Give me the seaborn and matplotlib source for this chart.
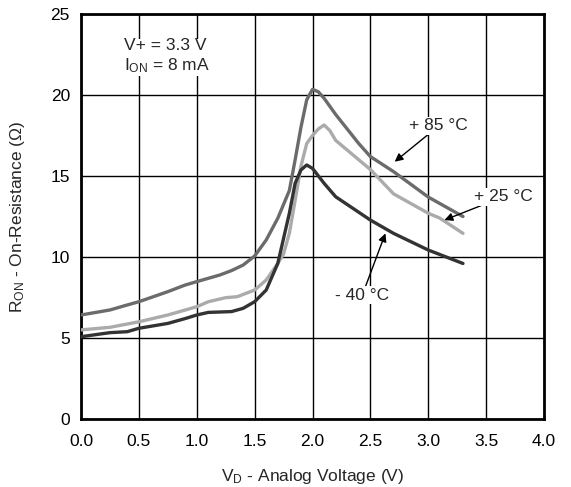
import matplotlib
matplotlib.use("Agg")
import matplotlib.pyplot as plt
import seaborn as sns
import pandas as pd

# ---- data ----
v_85 = [0.0, 0.25, 0.4, 0.5, 0.75, 0.9, 1.0, 1.2, 1.3, 1.4, 1.5, 1.6, 1.7, 1.8, 1.85, 1.9, 1.95, 2.0, 2.05, 2.1, 2.2, 2.4, 2.5, 2.7, 3.0, 3.3]
r_85 = [6.42, 6.73, 7.04, 7.24, 7.86, 8.27, 8.48, 8.89, 9.16, 9.5, 10.06, 11.05, 12.39, 14.1, 16.0, 18.0, 19.7, 20.35, 20.2, 19.8, 18.8, 17.0, 16.2, 15.27, 13.7, 12.5]

v_25 = [0.0, 0.25, 0.5, 0.75, 1.0, 1.1, 1.25, 1.35, 1.5, 1.6, 1.7, 1.75, 1.8, 1.85, 1.9, 1.95, 2.0, 2.05, 2.1, 2.15, 2.2, 2.5, 2.7, 3.0, 3.1, 3.3]
r_25 = [5.5, 5.66, 6.0, 6.42, 6.93, 7.24, 7.49, 7.55, 7.96, 8.58, 9.6, 10.2, 11.46, 13.5, 15.6, 17.0, 17.5, 17.9, 18.15, 17.8, 17.2, 15.4, 13.9, 12.7, 12.4, 11.46]

v_m40 = [0.0, 0.25, 0.4, 0.5, 0.75, 0.9, 1.0, 1.1, 1.3, 1.4, 1.5, 1.6, 1.7, 1.8, 1.85, 1.9, 1.95, 2.0, 2.1, 2.2, 2.5, 2.7, 3.0, 3.3]
r_m40 = [5.08, 5.33, 5.39, 5.6, 5.9, 6.2, 6.42, 6.58, 6.63, 6.83, 7.24, 7.96, 9.6, 12.7, 14.55, 15.37, 15.68, 15.47, 14.55, 13.72, 12.28, 11.46, 10.43, 9.6]

series_names = ["+ 85 °C", "+ 25 °C", "- 40 °C"]
x_ticks = [0.0, 0.5, 1.0, 1.5, 2.0, 2.5, 3.0, 3.5, 4.0]
y_ticks = [0, 5, 10, 15, 20, 25]

df = pd.concat([
    pd.DataFrame({"V": v_85, "R": r_85, "T": series_names[0]}),
    pd.DataFrame({"V": v_25, "R": r_25, "T": series_names[1]}),
    pd.DataFrame({"V": v_m40, "R": r_m40, "T": series_names[2]}),
], ignore_index=True)

sns.set_style("white")
plt.rcParams["font.family"] = ["Liberation Sans", "DejaVu Sans"]
plt.rcParams["mathtext.default"] = "regular"

FS = 12.5
fig = plt.figure(figsize=(5.71, 4.87), dpi=100)
ax = fig.add_axes([81 / 571, 1 - 419 / 487, 463 / 571, 405 / 487])

palette = {series_names[0]: "#6b6b6b", series_names[1]: "#ababab", series_names[2]: "#333333"}
sns.lineplot(data=df, x="V", y="R", hue="T", palette=palette, estimator=None,
             sort=False, linewidth=2.4, legend=False, ax=ax, zorder=3)

ax.set_xlim(0, 4)
ax.set_ylim(0, 25)
ax.set_xticks(x_ticks)
ax.set_xticklabels([f"{t:.1f}" for t in x_ticks])
ax.set_yticks(y_ticks)
ax.set_yticklabels([str(t) for t in y_ticks])
ax.grid(True, color="black", linewidth=1.0)
ax.set_axisbelow(True)
for s in ax.spines.values():
    s.set_visible(True)
    s.set_color("black")
    s.set_linewidth(2.0)
ax.tick_params(length=0, labelsize=FS, colors="black")
ax.tick_params(axis="x", pad=11)
ax.tick_params(axis="y", pad=8)

ax.set_xlabel("V$_D$ - Analog Voltage (V)", fontsize=FS, labelpad=13)
ax.set_ylabel("R$_{ON}$ - On-Resistance (Ω)", fontsize=FS, labelpad=17)

ax.text(0.37, 23.5, "V+ = 3.3 V\nI$_{ON}$ = 8 mA", fontsize=FS, va="top", ha="left",
        linespacing=1.2, bbox=dict(facecolor="white", edgecolor="none", pad=1), zorder=4)

arrow = dict(arrowstyle="-|>", color="black", lw=1.0, mutation_scale=12, shrinkA=0, shrinkB=0)
ax.annotate(series_names[0], xy=(2.71, 15.88), xytext=(3.09, 18.09), fontsize=FS,
            ha="center", va="center", arrowprops=arrow,
            bbox=dict(facecolor="white", edgecolor="none", pad=1), zorder=5)
ax.annotate(series_names[1], xy=(3.14, 12.28), xytext=(3.65, 13.72), fontsize=FS,
            ha="center", va="center", arrowprops=arrow,
            bbox=dict(facecolor="white", edgecolor="none", pad=1), zorder=5)
ax.annotate(series_names[2], xy=(2.63, 11.46), xytext=(2.43, 7.65), fontsize=FS,
            ha="center", va="center", arrowprops=arrow,
            bbox=dict(facecolor="white", edgecolor="none", pad=1), zorder=5)

fig.savefig("out.png", dpi=100)
